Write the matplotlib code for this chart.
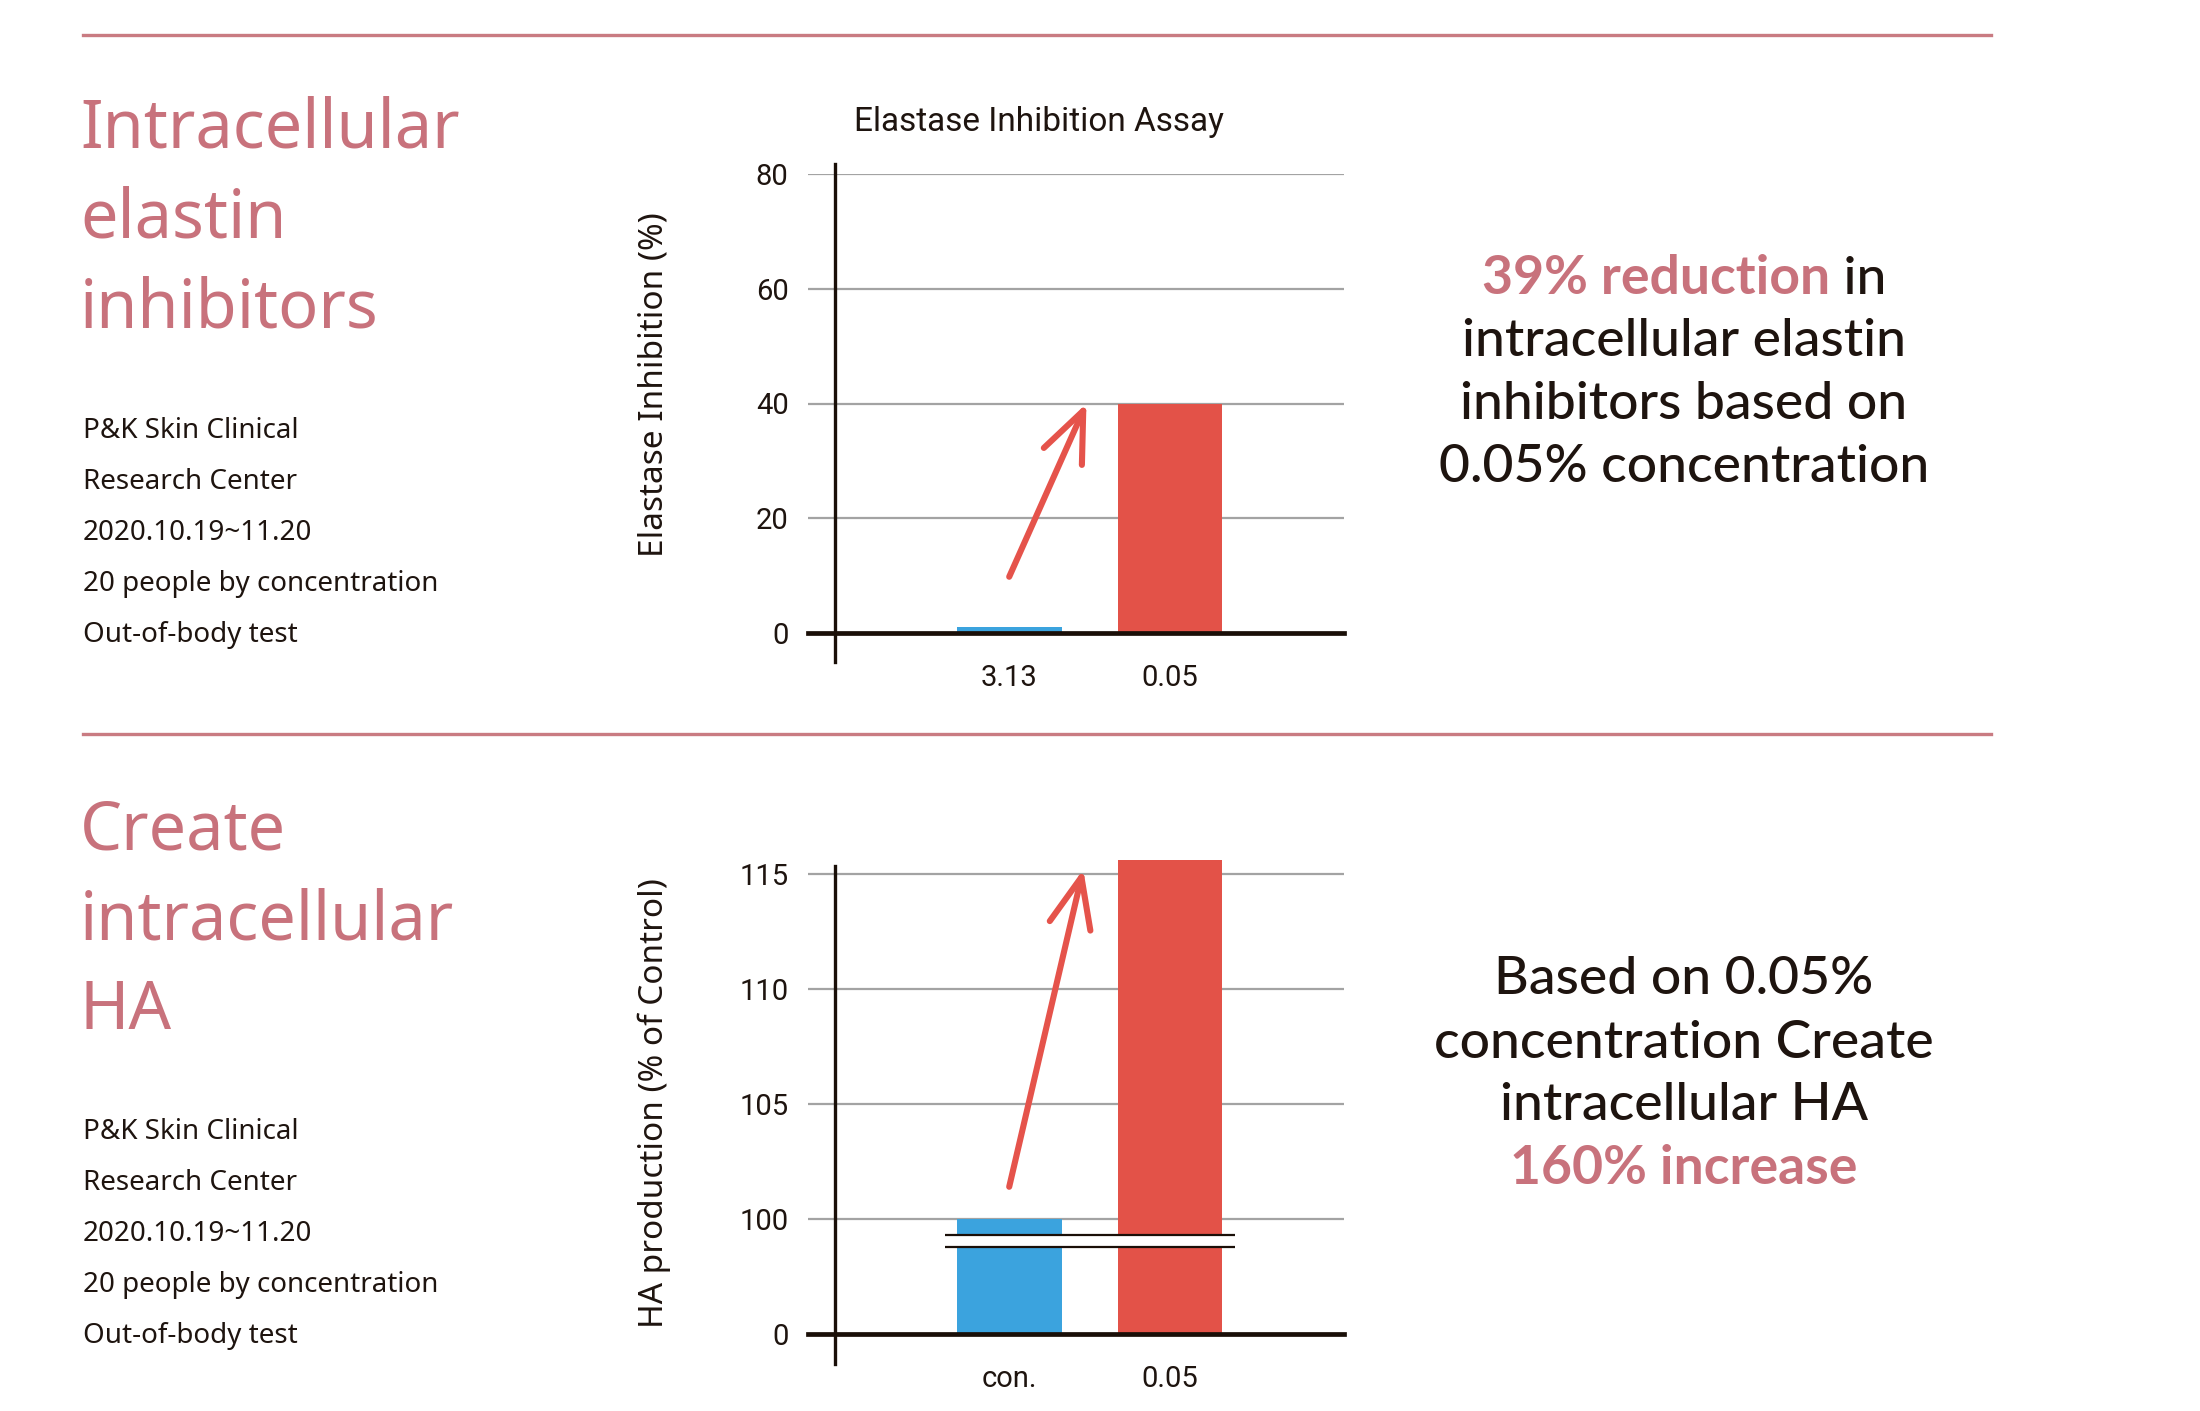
import matplotlib
matplotlib.use("Agg")
import matplotlib.pyplot as plt
from matplotlib.lines import Line2D

# -------------------------------------------------------------------
# data
elastase_labels = ["3.13", "0.05"]
elastase_values = [1.0, 40.0]
elastase_ticks = [0, 20, 40, 60, 80]

ha_labels = ["con.", "0.05"]
ha_values = [100.0, 115.6]
# broken axis: the "0" tick sits one step below 100
ha_base = 95
ha_ticks = [95, 100, 105, 110, 115]
ha_tick_labels = ["0", "100", "105", "110", "115"]

bar_colors = ["#3BA3DE", "#E35248"]

# arrows: (tail x, tail y, head x, head y)
elastase_arrow = (0.0, 9.8, 0.48, 40.0)
ha_arrow = (0.0, 101.4, 0.46, 115.2)

PINK = "#C8727C"
DARK = "#1E140F"
RED = "#E5534B"
GRID = "#A3A3A3"

heading_1 = "Intracellular\nelastin\ninhibitors"
heading_2 = "Create\nintracellular\nHA"
info_lines = ["P&K Skin Clinical", "Research Center", "2020.10.19~11.20",
              "20 people by concentration", "Out-of-body test"]

W, H = 2200, 1411
fig = plt.figure(figsize=(W / 100, H / 100), dpi=100)
fig.patch.set_facecolor("white")


def fx(px):
    return px / W


def fy(py):
    return 1 - py / H


# -------------------------------------------------------------------
# horizontal rules
for yy in (35, 734):
    fig.add_artist(Line2D([fx(83), fx(1991)], [fy(yy), fy(yy)],
                          color="#C97B82", lw=2.4))

# -------------------------------------------------------------------
# left text blocks
def left_block(heading, top_line_y, info_y):
    for i, line in enumerate(heading.split("\n")):
        fig.text(fx(80), fy(top_line_y + i * 89.5), line, color=PINK,
                 fontsize=48, family="Noto Sans", weight="medium",
                 va="center", ha="left")
    for i, line in enumerate(info_lines):
        fig.text(fx(83), fy(info_y + i * 51), line, color=DARK,
                 fontsize=20, family="Noto Sans", va="center", ha="left")


left_block(heading_1, 130, 431)
left_block(heading_2, 832, 1132)


# -------------------------------------------------------------------
def style_axes(ax, ylim, ticks, tick_labels, spine_span):
    ax.set_xlim(-1.25, 2.08)
    ax.set_ylim(*ylim)
    ax.set_yticks(ticks)
    ax.set_yticklabels(tick_labels)
    ax.yaxis.grid(True, color=GRID, lw=1.6)
    ax.set_axisbelow(True)
    for s in ("top", "right", "left"):
        ax.spines[s].set_visible(False)
    ax.spines["bottom"].set_linewidth(3.4)
    ax.spines["bottom"].set_color("#1A0F08")
    ax.spines["bottom"].set_zorder(5)
    ax.axvline(-1.08, ymin=spine_span[0], ymax=spine_span[1], color="#1A0F08",
               lw=2.4, clip_on=False, zorder=6)
    ax.tick_params(axis="both", length=0, labelsize=21, colors=DARK)
    ax.tick_params(axis="y", pad=14)
    ax.tick_params(axis="x", pad=22)
    for lab in ax.get_xticklabels() + ax.get_yticklabels():
        lab.set_family("Roboto")


def draw_arrow(ax, arrow):
    x0, y0, x1, y1 = arrow
    ax.annotate("", xy=(x1, y1), xytext=(x0, y0),
                arrowprops=dict(arrowstyle="->,head_length=1.8,head_width=0.75",
                                color=RED, lw=4.4, mutation_scale=20,
                                capstyle="round", joinstyle="round",
                                shrinkA=0, shrinkB=0), zorder=7)


# chart 1 -----------------------------------------------------------
ax1 = fig.add_axes([fx(808), fy(633), fx(1344) - fx(808), fy(174) - fy(633)])
ax1.bar(range(len(elastase_values)), elastase_values, width=0.65,
        color=bar_colors, zorder=3)
ax1.set_xticks(range(len(elastase_labels)))
ax1.set_xticklabels(elastase_labels)
style_axes(ax1, (0, 80), elastase_ticks, [str(t) for t in elastase_ticks],
           (-0.063, 1.022))
draw_arrow(ax1, elastase_arrow)
ax1.text(0.43, 1.113, "Elastase Inhibition Assay", transform=ax1.transAxes,
         ha="center", va="center", fontsize=24, family="Roboto", color=DARK)
fig.text(fx(654), fy(385), "Elastase Inhibition (%)", rotation=90,
         fontsize=24, family="Noto Sans", color=DARK, ha="center", va="center")

# chart 2 -----------------------------------------------------------
ax2 = fig.add_axes([fx(808), fy(1334), fx(1344) - fx(808), fy(851) - fy(1334)])
ax2.bar(range(len(ha_values)), [v - ha_base for v in ha_values], width=0.65,
        bottom=ha_base, color=bar_colors, zorder=3)
ax2.set_xticks(range(len(ha_labels)))
ax2.set_xticklabels(ha_labels)
style_axes(ax2, (ha_base, 116), ha_ticks, ha_tick_labels, (-0.062, 0.969))
# axis break marks just under 100
brk_lo, brk_hi = 98.8, 99.3
ax2.fill_between([-0.40, 1.40], brk_lo, brk_hi, color="white", zorder=4, lw=0)
ax2.hlines([brk_lo, brk_hi], -0.40, 1.40, color="#1A0F08", lw=1.6, zorder=4)
draw_arrow(ax2, ha_arrow)
fig.text(fx(654), fy(1103), "HA production (% of Control)", rotation=90,
         fontsize=24, family="Noto Sans", color=DARK, ha="center", va="center")

# -------------------------------------------------------------------
# right-hand summary text
RFONT = "Lato"
RSIZE = 38.5
CX = 1684

fig.canvas.draw()
renderer = fig.canvas.get_renderer()

t_pink = fig.text(0, fy(279), "39% reduction", color=PINK, fontsize=RSIZE,
                  family=RFONT, weight="bold", va="center", ha="left")
t_rest = fig.text(0, fy(279), " in", color=DARK, fontsize=RSIZE,
                  family=RFONT, weight="medium", va="center", ha="left")
w1 = t_pink.get_window_extent(renderer).width
w2 = t_rest.get_window_extent(renderer).width
start = CX - (w1 + w2) / 2
t_pink.set_x(fx(start))
t_rest.set_x(fx(start + w1))

for i, line in enumerate(["intracellular elastin", "inhibitors based on",
                          "0.05% concentration"]):
    fig.text(fx(CX), fy(342 + i * 62.7), line, color=DARK, fontsize=RSIZE,
             family=RFONT, weight="medium", va="center", ha="center")

for i, line in enumerate(["Based on 0.05%", "concentration Create",
                          "intracellular HA"]):
    fig.text(fx(CX), fy(980 + i * 63), line, color=DARK, fontsize=RSIZE,
             family=RFONT, weight="medium", va="center", ha="center")
fig.text(fx(CX), fy(1169), "160% increase", color=PINK, fontsize=RSIZE,
         family=RFONT, weight="bold", va="center", ha="center")

fig.savefig("out.png", dpi=100, facecolor="white")
